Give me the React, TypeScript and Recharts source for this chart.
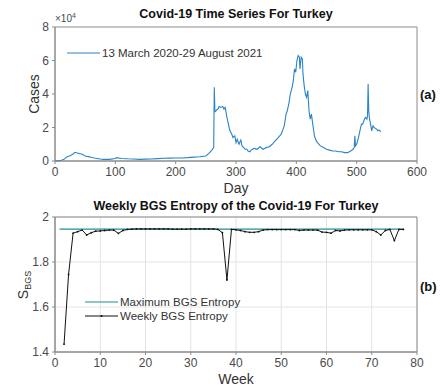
import React from "react";
import {
  LineChart,
  Line,
  XAxis,
  YAxis,
  CartesianGrid,
  ReferenceArea,
} from "recharts";

// daily cases (in thousands)
const days = [
  0, 5, 10, 15, 18, 20, 25, 30, 33, 37, 40, 45, 50, 55, 60, 65, 70, 75, 80, 90,
  100, 102, 110, 120, 130, 140, 150, 160, 170, 180, 190, 200, 210, 220, 230,
  240, 250, 255, 260, 262, 263, 264, 265, 266, 268, 270, 272, 275, 278, 280,
  282, 285, 288, 290, 293, 295, 298, 300, 302, 305, 308, 310, 313, 315, 318,
  320, 323, 325, 330, 335, 340, 345, 350, 355, 360, 365, 370, 375, 378, 380,
  383, 385, 388, 390, 393, 395, 397, 399, 401, 403, 405, 406, 408, 410, 411,
  413, 415, 417, 419, 421, 423, 425, 428, 430, 433, 435, 440, 445, 450, 455,
  460, 465, 470, 475, 480, 485, 490, 494, 496, 497, 498, 500, 503, 506, 508,
  510, 513, 515, 517, 518, 519, 520, 521, 523, 525, 527, 529, 531, 533, 535,
  537, 540,
];
const casesK = [
  0.1, 0.2, 0.3, 1.0, 2.0, 2.5, 3.2, 4.2, 5.2, 4.8, 4.5, 4.0, 3.0, 2.6, 2.2,
  1.8, 1.5, 1.2, 1.0, 1.0, 1.5, 2.0, 1.5, 1.3, 1.2, 1.0, 1.1, 1.2, 1.4, 1.6,
  1.7, 1.8, 1.8, 2.0, 2.3, 2.5, 3.0, 4.5, 6.5, 7.5, 8, 44, 30, 29.5, 30.5, 31,
  32.5, 32, 32.5, 31, 32, 26, 21, 18, 16, 14, 15, 11, 13, 10, 12.5, 9, 8, 7, 7,
  6, 5.5, 6.5, 7.5, 7, 8.5, 7, 8, 8.5, 10, 12, 14, 16, 19, 21, 28, 30, 35, 40,
  44, 48, 55, 53, 60, 63, 62, 55, 62, 61, 52, 45, 40, 38, 42, 30, 25, 28, 20,
  15, 12, 11, 9, 8, 7, 6.5, 6, 6, 5.5, 5.5, 5, 5, 6, 7, 8, 15, 9, 10, 14, 19,
  22, 22, 25, 26, 25, 27, 46, 30, 26, 22, 18, 21, 20, 19.5, 19, 18, 18.5, 17.5,
];

const weeks = [
  2, 3, 4, 5, 6, 7, 8, 9, 10, 11, 12, 13, 14, 15, 16, 17, 18, 19, 20, 21, 22,
  23, 24, 25, 26, 27, 28, 29, 30, 31, 32, 33, 34, 35, 36, 37, 38, 39, 40, 41,
  42, 43, 44, 45, 46, 47, 48, 49, 50, 51, 52, 53, 54, 55, 56, 57, 58, 59, 60,
  61, 62, 63, 64, 65, 66, 67, 68, 69, 70, 71, 72, 73, 74, 75, 76, 77,
];
const weeklyEntropy = [
  1.435, 1.745, 1.928, 1.935, 1.942, 1.92, 1.93, 1.937, 1.938, 1.94, 1.942,
  1.942, 1.927, 1.94, 1.945, 1.946, 1.947, 1.947, 1.947, 1.947, 1.947, 1.947,
  1.947, 1.947, 1.946, 1.946, 1.946, 1.946, 1.947, 1.947, 1.947, 1.947, 1.947,
  1.947, 1.945, 1.93, 1.72, 1.945, 1.943, 1.94, 1.935, 1.932, 1.932, 1.935,
  1.942, 1.944, 1.944, 1.944, 1.944, 1.944, 1.944, 1.944, 1.94, 1.942, 1.942,
  1.942, 1.942, 1.933, 1.932, 1.928, 1.94, 1.938, 1.942, 1.943, 1.943, 1.943,
  1.943, 1.943, 1.943, 1.935, 1.92, 1.94, 1.945, 1.895, 1.945, 1.945,
];
const maxEntropy = 1.9459;
const maxWeeks = [1, 77];

const caseData = days.map((d, i) => ({ day: d, cases: casesK[i] * 1000 }));
const weekData = [
  { week: maxWeeks[0], max: maxEntropy },
  ...weeks.map((w, i) => ({
    week: w,
    weekly: weeklyEntropy[i],
    max: w === maxWeeks[1] ? maxEntropy : undefined,
  })),
];

const FONT = "'Liberation Sans', Arial, sans-serif";
const AXIS = "#8c8c8c";
const TXT = "#4a4a4a";
const BLUE = "#2a84c6";
const TEAL = "#1e8f92";

const tickStyle = { fontSize: 12, fill: TXT, fontFamily: FONT };

const abs = (extra: React.CSSProperties): React.CSSProperties => ({
  position: "absolute",
  fontFamily: FONT,
  color: "#222",
  whiteSpace: "nowrap",
  ...extra,
});

function LegendRow({ color, label, marker }: { color: string; label: string; marker?: boolean }) {
  return (
    <div style={{ display: "flex", alignItems: "center", height: 14 }}>
      <svg width={35} height={8} style={{ display: "block" }}>
        <line x1={0} y1={4} x2={33} y2={4} stroke={color} strokeWidth={1.2} />
        {marker && <circle cx={16.5} cy={4} r={1.1} fill={color} />}
      </svg>
      <span>{label}</span>
    </div>
  );
}

export default function App() {
  return (
    <div style={{ position: "fixed", left: 0, top: 0, width: 440, height: 387, background: "#fff" }}>
      {/* (a) daily cases */}
      <div style={{ position: "absolute", left: 0, top: 0 }}>
        <LineChart width={440} height={200} data={caseData} margin={{ top: 27, right: 23, bottom: 0, left: 0 }}>
          <XAxis
            dataKey="day"
            type="number"
            domain={[0, 600]}
            ticks={[0, 100, 200, 300, 400, 500, 600]}
            height={39}
            stroke={AXIS}
            tick={tickStyle}
            tickSize={3}
            tickMargin={3}
          />
          <YAxis
            type="number"
            domain={[0, 80000]}
            ticks={[0, 20000, 40000, 60000, 80000]}
            tickFormatter={(v: number) => String(v / 10000)}
            width={55}
            stroke={AXIS}
            tick={tickStyle}
            tickSize={3}
            tickMargin={3}
          />
          <ReferenceArea x1={0} x2={600} y1={0} y2={80000} fill="none" stroke={AXIS} strokeWidth={1} />
          <Line
            dataKey="cases"
            stroke={BLUE}
            strokeWidth={1.1}
            dot={false}
            isAnimationActive={false}
          />
        </LineChart>
      </div>

      {/* (b) weekly entropy */}
      <div style={{ position: "absolute", left: 0, top: 190 }}>
        <LineChart width={440} height={197} data={weekData} margin={{ top: 27, right: 23, bottom: 0, left: 0 }}>
          <CartesianGrid stroke="#e3e3e3" strokeWidth={1} />
          <XAxis
            dataKey="week"
            type="number"
            domain={[0, 80]}
            ticks={[0, 10, 20, 30, 40, 50, 60, 70, 80]}
            height={35}
            stroke={AXIS}
            tick={tickStyle}
            tickSize={3}
            tickMargin={3}
          />
          <YAxis
            type="number"
            domain={[1.4, 2]}
            ticks={[1.4, 1.6, 1.8, 2]}
            width={55}
            stroke={AXIS}
            tick={tickStyle}
            tickSize={3}
            tickMargin={3}
            allowDataOverflow
          />
          <ReferenceArea x1={0} x2={80} y1={1.4} y2={2} fill="none" stroke={AXIS} strokeWidth={1} />
          <Line
            dataKey="max"
            stroke={TEAL}
            strokeWidth={1.2}
            dot={false}
            connectNulls
            isAnimationActive={false}
          />
          <Line
            dataKey="weekly"
            stroke="#111"
            strokeWidth={1}
            dot={{ r: 0.9, fill: "#111", stroke: "none" }}
            connectNulls
            isAnimationActive={false}
          />
        </LineChart>
      </div>

      {/* legends */}
      <div style={abs({ left: 67, top: 46, fontSize: 11.5, color: "#333" })}>
        <LegendRow color={BLUE} label="13 March 2020-29 August 2021" />
      </div>
      <div style={abs({ left: 85, top: 295, fontSize: 11.5, color: "#333" })}>
        <LegendRow color={TEAL} label="Maximum BGS Entropy" />
        <LegendRow color="#111" label="Weekly BGS Entropy" marker />
      </div>

      {/* titles and labels */}
      <div style={abs({ left: 0, width: 440, top: 7, textAlign: "center", paddingLeft: 32, boxSizing: "border-box", fontSize: 12.5, fontWeight: "bold", color: "#111" })}>
        Covid-19 Time Series For Turkey
      </div>
      <div style={abs({ left: 55, top: 12, fontSize: 10, color: TXT })}>
        ×10<sup style={{ fontSize: 7 }}>4</sup>
      </div>
      <div style={abs({ left: 34, top: 94, fontSize: 14, color: "#333", transform: "translate(-50%, -50%) rotate(-90deg)" })}>
        Cases
      </div>
      <div style={abs({ left: 236, top: 180, fontSize: 14, color: "#333", transform: "translateX(-50%)" })}>
        Day
      </div>
      <div style={abs({ left: 420, top: 87, fontSize: 13, fontWeight: "bold", color: "#111" })}>(a)</div>

      <div style={abs({ left: 0, width: 440, top: 199, textAlign: "center", paddingLeft: 32, boxSizing: "border-box", fontSize: 12.5, fontWeight: "bold", color: "#111" })}>
        Weekly BGS Entropy of the Covid-19 For Turkey
      </div>
      <div style={abs({ left: 24, top: 285, fontSize: 14, color: "#333", transform: "translate(-50%, -50%) rotate(-90deg)" })}>
        S<sub style={{ fontSize: 9 }}>BGS</sub>
      </div>
      <div style={abs({ left: 236, top: 371, fontSize: 14, color: "#333", transform: "translateX(-50%)" })}>
        Week
      </div>
      <div style={abs({ left: 420, top: 279, fontSize: 13, fontWeight: "bold", color: "#111" })}>(b)</div>
    </div>
  );
}
